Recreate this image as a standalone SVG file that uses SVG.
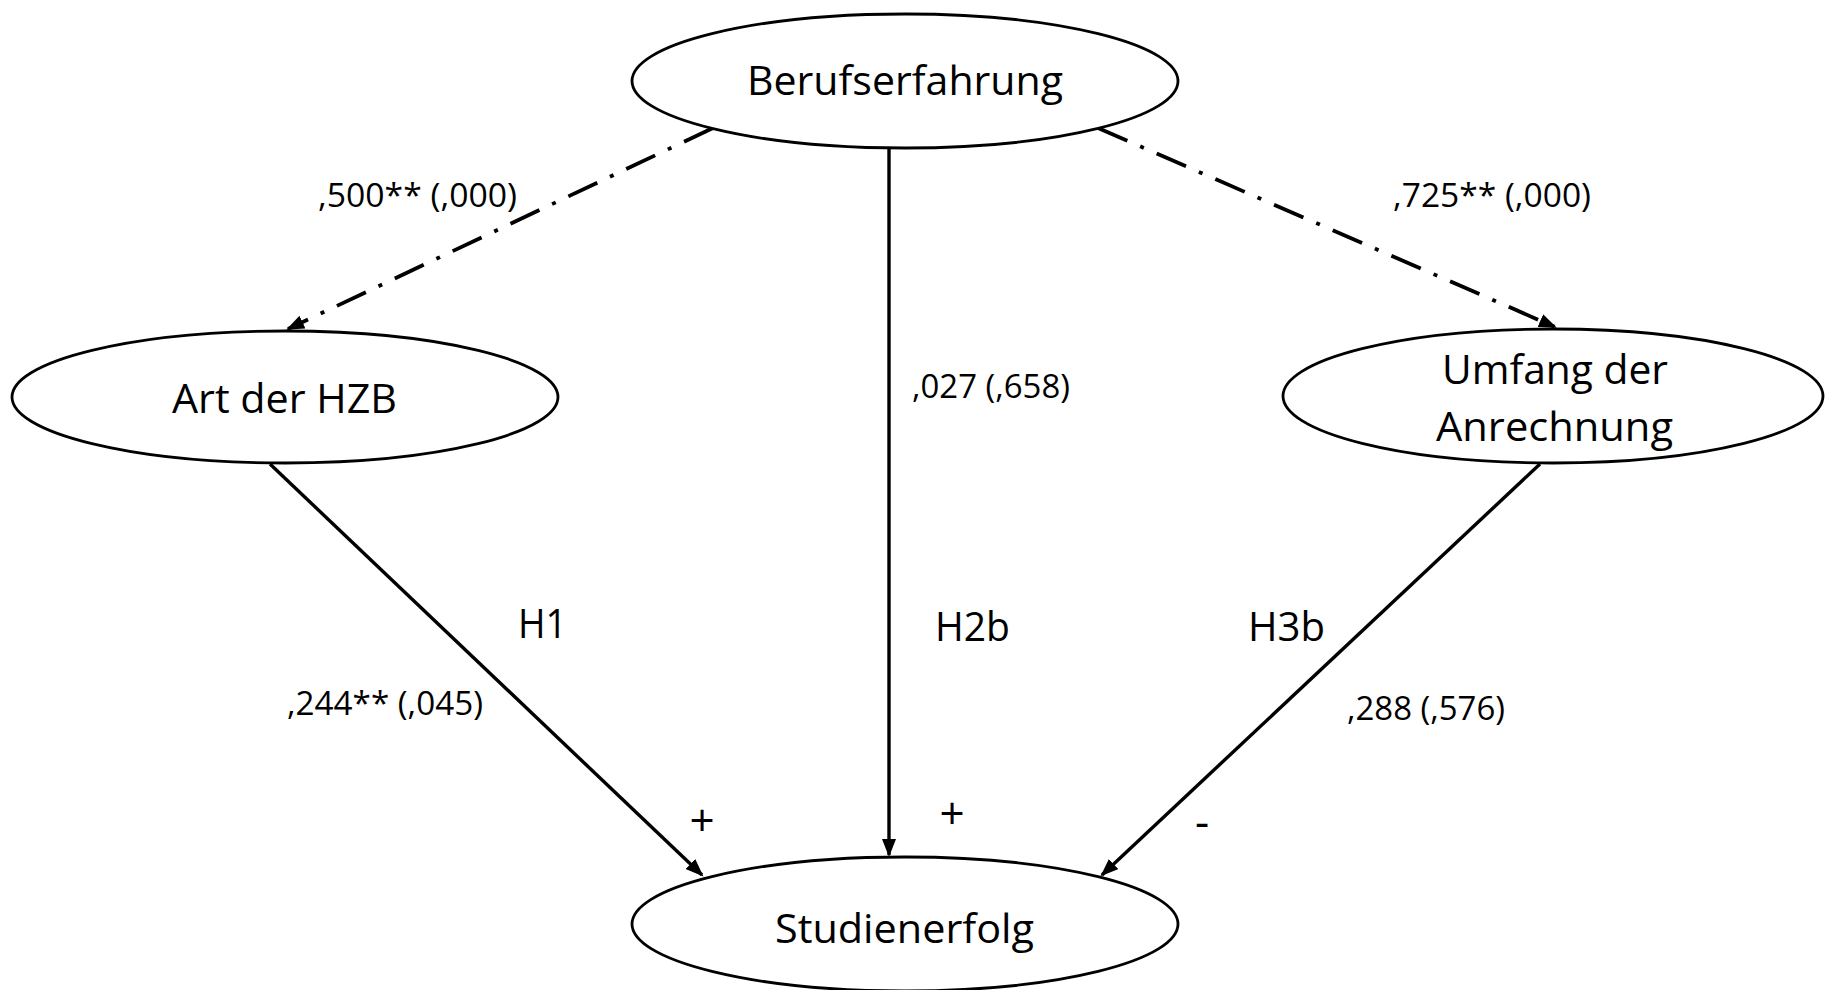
<svg xmlns="http://www.w3.org/2000/svg" width="1825" height="990" viewBox="0 0 1825 990">
  <style>
    .node { fill: #ffffff; stroke: #000000; stroke-width: 2.8; }
    .lbl { font-family: "Open Sans", "Liberation Sans", sans-serif; font-size: 40px; fill: #000000; }
    .sm { font-family: "Open Sans", "Liberation Sans", sans-serif; font-size: 33px; fill: #000000; }
    .sign { font-family: "Open Sans", "Liberation Sans", sans-serif; font-size: 44px; fill: #000000; }
    .solid { stroke: #000000; stroke-width: 3.4; fill: none; }
    .dash { stroke: #000000; stroke-width: 3.8; fill: none; stroke-dasharray: 32 14 4 14; }
  </style>
  <defs>
    <marker id="arr" markerUnits="userSpaceOnUse" markerWidth="20" markerHeight="16" refX="16" refY="7" orient="auto">
      <path d="M0,0 L18,7 L0,14 z" fill="#000000"/>
    </marker>
  </defs>
  <rect width="1825" height="990" fill="#ffffff"/>

  <g id="connectors">
    <line class="dash" x1="713" y1="128" x2="288" y2="329" marker-end="url(#arr)"/>
    <line class="dash" x1="1098" y1="128" x2="1555" y2="327" marker-end="url(#arr)"/>
    <line class="solid" x1="889" y1="148" x2="889" y2="855" marker-end="url(#arr)"/>
    <line class="solid" x1="270" y1="464" x2="702" y2="875" marker-end="url(#arr)"/>
    <line class="solid" x1="1540" y1="464" x2="1102" y2="875" marker-end="url(#arr)"/>
  </g>

  <g id="node-berufserfahrung">
    <ellipse class="node" cx="905" cy="81" rx="273" ry="67"/>
    <text class="lbl" x="747" y="95" textLength="316" lengthAdjust="spacingAndGlyphs">Berufserfahrung</text>
  </g>
  <g id="node-art-der-hzb">
    <ellipse class="node" cx="285" cy="397" rx="273" ry="66"/>
    <text class="lbl" x="172" y="413" textLength="225" lengthAdjust="spacingAndGlyphs">Art der HZB</text>
  </g>
  <g id="node-umfang">
    <ellipse class="node" cx="1553" cy="396" rx="270" ry="67"/>
    <text class="lbl" x="1442" y="384" textLength="226" lengthAdjust="spacingAndGlyphs">Umfang der</text>
    <text class="lbl" x="1436" y="441" textLength="237" lengthAdjust="spacingAndGlyphs">Anrechnung</text>
  </g>
  <g id="node-studienerfolg">
    <ellipse class="node" cx="905" cy="924" rx="273" ry="67"/>
    <text class="lbl" x="775" y="943" textLength="259" lengthAdjust="spacingAndGlyphs">Studienerfolg</text>
  </g>

  <g id="edge-labels">
    <text class="sm" x="318" y="207" textLength="199" lengthAdjust="spacingAndGlyphs">,500** (,000)</text>
    <text class="sm" x="1393" y="207" textLength="198" lengthAdjust="spacingAndGlyphs">,725** (,000)</text>
    <text class="sm" x="912" y="398" textLength="158" lengthAdjust="spacingAndGlyphs">,027 (,658)</text>
    <text class="lbl" x="518" y="638" textLength="49" lengthAdjust="spacingAndGlyphs">H1</text>
    <text class="lbl" x="935" y="641" textLength="75" lengthAdjust="spacingAndGlyphs">H2b</text>
    <text class="lbl" x="1248" y="641" textLength="77" lengthAdjust="spacingAndGlyphs">H3b</text>
    <text class="sm" x="287" y="715" textLength="196" lengthAdjust="spacingAndGlyphs">,244** (,045)</text>
    <text class="sm" x="1347" y="720" textLength="158" lengthAdjust="spacingAndGlyphs">,288 (,576)</text>
    <text class="sign" x="702" y="836" text-anchor="middle">+</text>
    <text class="sign" x="952" y="829" text-anchor="middle">+</text>
    <text class="sign" x="1202" y="837" text-anchor="middle">-</text>
  </g>
</svg>
